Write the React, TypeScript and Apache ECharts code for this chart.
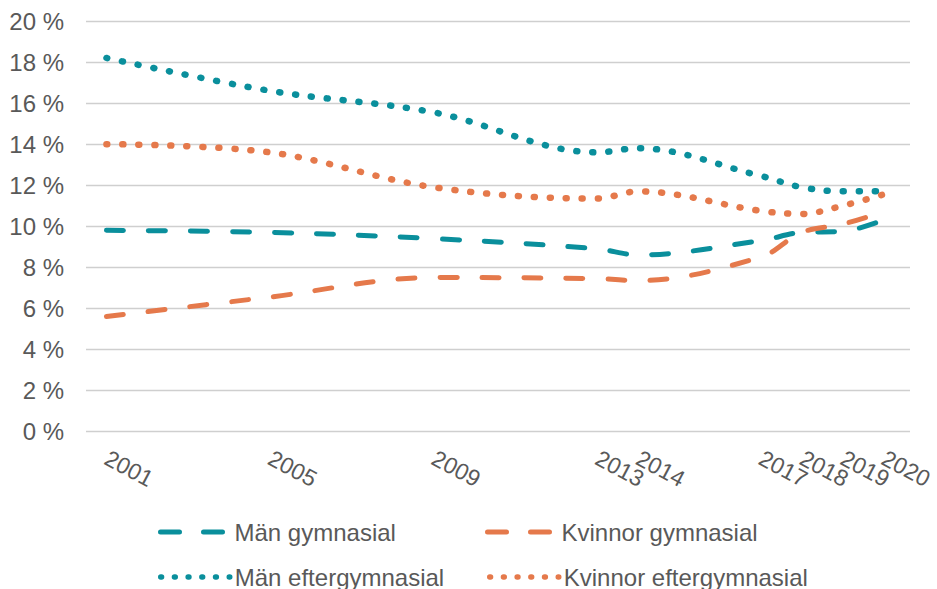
import React, { useEffect, useRef } from "react";
import * as echarts from "echarts";

const years = [2001, 2005, 2009, 2013, 2014, 2017, 2018, 2019, 2020];
const manGym = [9.8, 9.7, 9.4, 8.9, 8.6, 9.3, 9.7, 9.75, 10.3];
const kvinnorGym = [5.6, 6.55, 7.5, 7.45, 7.35, 8.5, 9.7, 10.1, 10.7];
const manEfter = [18.2, 16.6, 15.55, 13.6, 13.8, 12.45, 11.9, 11.7, 11.7];
const kvinnorEfter = [14.0, 13.6, 11.9, 11.35, 11.7, 10.75, 10.6, 11.0, 11.55];
const seriesNames = ["Män gymnasial", "Kvinnor gymnasial", "Män eftergymnasial", "Kvinnor eftergymnasial"];

const TEAL = "#0A8F9C";
const ORANGE = "#E5794B";
const TEXT = "#595959";
const FONT = "Liberation Sans, Arial, sans-serif";

export default function App() {
  const ref = useRef<HTMLDivElement>(null);
  useEffect(() => {
    if (!ref.current) return;
    const chart = echarts.init(ref.current, null, { renderer: "svg" });
    const pairs = (vals: number[]) => years.map((y, i) => [y, vals[i]]);
    const dash = [17, 25];
    const dot = [1, 15];
    const mk = (name: string, vals: number[], color: string, type: number[], width: number) => ({
      name,
      type: "line",
      data: pairs(vals),
      smooth: 0.35,
      symbol: "none",
      lineStyle: { color, width, type, cap: "round" },
      itemStyle: { color },
    });
    const legendText = { color: TEXT, fontSize: 24, fontFamily: FONT, lineHeight: 26 };
    const mkLegend = (name: string, left: number, top: number, color: string, dashed: boolean) => ({
      data: [name],
      left,
      top,
      padding: 0,
      itemWidth: dashed ? 62 : 69,
      itemHeight: 14,
      itemStyle: { opacity: 0, color: "transparent", borderWidth: 0 },
      lineStyle: dashed
        ? { color, width: 5, type: [19, 24], cap: "round" }
        : { color, width: 5.5, type: [0.8, 12.9], cap: "round" },
      textStyle: { ...legendText, padding: [0, 0, 0, dashed ? 7 : 0] },
      selectedMode: false,
    });
    // labels are split over two overlapping x axes so that ECharts does not drop
    // labels whose rotated boxes overlap (as they do in the reference)
    const labelSetA = years.filter((_, i) => i % 2 === 0);
    const labelSetB = years.filter((_, i) => i % 2 === 1);
    const mkX = (labels: number[]) => ({
      type: "value",
      position: "bottom",
      offset: 0,
      min: 2000.5,
      max: 2020.65,
      axisLine: { show: false },
      axisTick: { show: false },
      splitLine: { show: false },
      axisLabel: {
        customValues: labels,
        showMinLabel: true,
        showMaxLabel: true,
        hideOverlap: false,
        rotate: -28,
        margin: 25,
        color: TEXT,
        fontSize: 23,
        fontFamily: FONT,
        formatter: (v: number) => String(v),
      },
    });
    chart.setOption({
      animation: false,
      grid: { left: 86, right: 27, top: 21, height: 410.5, containLabel: false },
      xAxis: [mkX(labelSetA), mkX(labelSetB)],
      yAxis: {
        type: "value",
        min: 0,
        max: 20,
        interval: 2,
        axisLine: { show: false },
        axisTick: { show: false },
        splitLine: { lineStyle: { color: "#CFCFCF", width: 1.4 } },
        axisLabel: {
          margin: 22,
          color: TEXT,
          fontSize: 24,
          fontFamily: FONT,
          formatter: (v: number) => `${v} %`,
        },
      },
      legend: [
        mkLegend(seriesNames[0], 158, 519, TEAL, true),
        mkLegend(seriesNames[1], 485, 519, ORANGE, true),
        mkLegend(seriesNames[2], 158, 564, TEAL, false),
        mkLegend(seriesNames[3], 487, 564, ORANGE, false),
      ],
      series: [
        mk(seriesNames[0], manGym, TEAL, dash, 5),
        mk(seriesNames[1], kvinnorGym, ORANGE, dash, 5),
        mk(seriesNames[2], manEfter, TEAL, dot, 6.5),
        mk(seriesNames[3], kvinnorEfter, ORANGE, dot, 6.5),
      ],
    });
    return () => chart.dispose();
  }, []);
  return (
    <div
      ref={ref}
      style={{ position: "fixed", left: 0, top: 0, width: 937, height: 589, background: "#fff" }}
    />
  );
}
